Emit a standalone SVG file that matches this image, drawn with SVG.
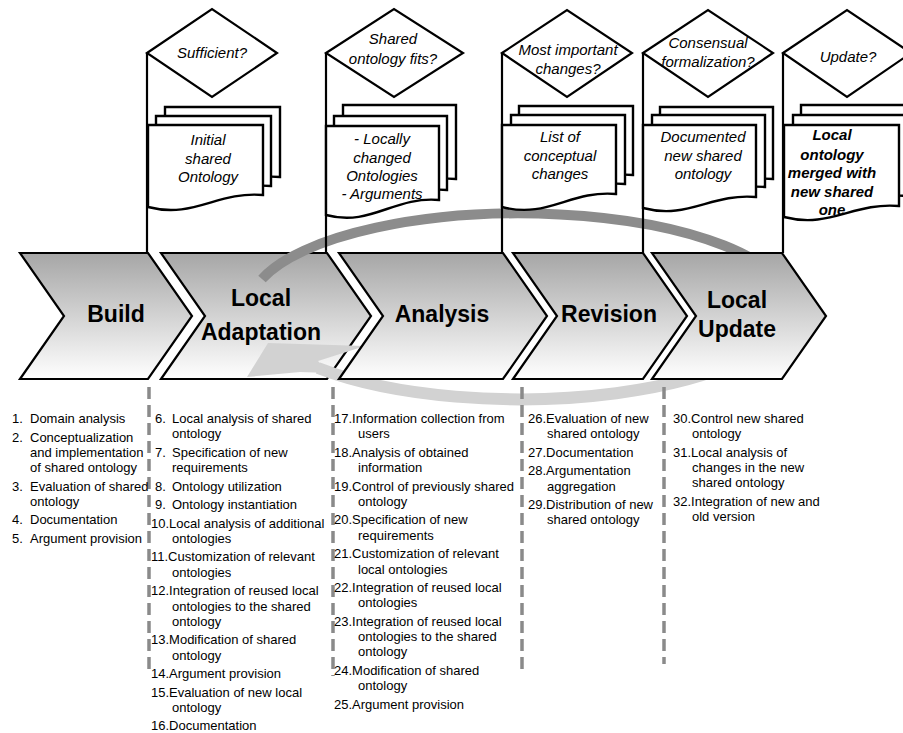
<svg xmlns="http://www.w3.org/2000/svg" width="903" height="733" viewBox="0 0 903 733">
<defs>
<linearGradient id="chev" x1="0" y1="0" x2="0" y2="1">
<stop offset="0" stop-color="#a6a6a6"/>
<stop offset="1" stop-color="#ffffff"/>
</linearGradient>
<style>
.chev{fill:url(#chev);stroke:#000;stroke-width:2.2;stroke-linejoin:miter}
.ct{font-family:"Liberation Sans",Arial,sans-serif;font-weight:bold;font-size:23px;text-anchor:middle;fill:#000}
.dia{fill:#fff;stroke:#000;stroke-width:2.2}
.doc{fill:#fff;stroke:#000;stroke-width:2.4}
.it{font-family:"Liberation Sans",Arial,sans-serif;font-style:italic;font-size:15px;text-anchor:middle;fill:#000}
.bi{font-weight:bold}
.vl{stroke:#000;stroke-width:2.2;fill:none}
.dl{stroke:#8a8a8a;stroke-width:3.5;stroke-dasharray:12 6;fill:none}
.lt{font-family:"Liberation Sans",Arial,sans-serif;font-size:13px;fill:#000}
</style>
</defs>
<rect width="903" height="733" fill="#fff"/>

<g id="build"><path class="chev" d="M20,253 H148 L192,316 L148,379 H20 L64,316 Z"/><text class="ct" x="116" y="322">Build</text></g>
<g id="local-adaptation"><path class="chev" d="M161,253 H327 L371,316 L327,379 H161 L205,316 Z"/><text class="ct" x="261" y="306">Local</text><text class="ct" x="261" y="340">Adaptation</text></g>

<g id="cycle-arrow">
<path d="M262,279 A270,93 0 0,1 790,306" fill="none" stroke="#8c8c8c" stroke-width="10"/>
<path d="M790,306 A270,93 0 0,1 318,368" fill="none" stroke="#d2d2d2" stroke-width="12"/>
<polygon points="247,377 268,343 365,346 318,361 330,373 300,372" fill="#d2d2d2"/>
</g>

<g id="analysis"><path class="chev" d="M339,253 H503 L547,316 L503,379 H339 L383,316 Z"/><text class="ct" x="442" y="322">Analysis</text></g>
<g id="revision"><path class="chev" d="M513,253 H643 L687,316 L643,379 H513 L557,316 Z"/><text class="ct" x="609" y="322">Revision</text></g>
<g id="local-update"><path class="chev" d="M652,253 H782 L826,316 L782,379 H652 L696,316 Z"/><text class="ct" x="737" y="308">Local</text><text class="ct" x="737" y="337">Update</text></g>

<g id="connectors">
<line class="vl" x1="147" y1="53" x2="147" y2="253"/>
<line class="vl" x1="326" y1="53" x2="326" y2="253"/>
<line class="vl" x1="502" y1="53" x2="502" y2="253"/>
<line class="vl" x1="643" y1="53" x2="643" y2="253"/>
<line class="vl" x1="783" y1="53" x2="783" y2="253"/>
<line class="dl" x1="149" y1="387" x2="149" y2="674"/>
<line class="dl" x1="333" y1="387" x2="333" y2="676"/>
<line class="dl" x1="522" y1="387" x2="522" y2="672"/>
<line class="dl" x1="664" y1="387" x2="664" y2="664"/>
</g>

<g id="doc-initial">
<path class="doc" transform="translate(17,-18)" d="M148,125 H263 V195 C217,191 194,219 148,207 Z"/>
<path class="doc" transform="translate(8,-9)" d="M148,125 H263 V195 C217,191 194,219 148,207 Z"/>
<path class="doc" d="M148,125 H263 V195 C217,191 194,219 148,207 Z"/>
<text class="it" x="208" y="145">Initial</text><text class="it" x="208" y="164">shared</text><text class="it" x="208" y="182">Ontology</text>
</g>
<g id="doc-local-changed">
<path class="doc" transform="translate(17,-21)" d="M326,126 H439 V200 C394,196 371,227 326,215 Z"/>
<path class="doc" transform="translate(8,-10)" d="M326,126 H439 V200 C394,196 371,227 326,215 Z"/>
<path class="doc" d="M326,126 H439 V200 C394,196 371,227 326,215 Z"/>
<text class="it" x="382" y="144">- Locally</text><text class="it" x="382" y="163">changed</text><text class="it" x="382" y="181">Ontologies</text><text class="it" x="382" y="199">- Arguments</text>
</g>
<g id="doc-conceptual">
<path class="doc" transform="translate(17,-19)" d="M502,125 H616 V194 C570,190 548,219 502,207 Z"/>
<path class="doc" transform="translate(9,-10)" d="M502,125 H616 V194 C570,190 548,219 502,207 Z"/>
<path class="doc" d="M502,125 H616 V194 C570,190 548,219 502,207 Z"/>
<text class="it" x="560" y="142">List of</text><text class="it" x="560" y="161">conceptual</text><text class="it" x="560" y="179">changes</text>
</g>
<g id="doc-documented">
<path class="doc" transform="translate(17,-18)" d="M643,125 H756 V197 C711,193 688,220 643,208 Z"/>
<path class="doc" transform="translate(9,-10)" d="M643,125 H756 V197 C711,193 688,220 643,208 Z"/>
<path class="doc" d="M643,125 H756 V197 C711,193 688,220 643,208 Z"/>
<text class="it" x="703" y="142">Documented</text><text class="it" x="703" y="161">new shared</text><text class="it" x="703" y="179">ontology</text>
</g>
<g id="doc-merged">
<path class="doc" transform="translate(17,-20)" d="M784,125 H899 V206 C853,202 830,229 784,217 Z"/>
<path class="doc" transform="translate(9,-10)" d="M784,125 H899 V206 C853,202 830,229 784,217 Z"/>
<path class="doc" d="M784,125 H899 V206 C853,202 830,229 784,217 Z"/>
<text class="it bi" x="832" y="140">Local</text><text class="it bi" x="832" y="160">ontology</text><text class="it bi" x="832" y="178">merged with</text><text class="it bi" x="832" y="197">new shared</text><text class="it bi" x="832" y="215">one</text>
</g>

<g id="dec-sufficient"><polygon class="dia" points="147,53 212,9 277,53 212,97"/><text class="it" x="212" y="58">Sufficient?</text></g>
<g id="dec-fits"><polygon class="dia" points="326,53 394,9 463,53 394,97"/><text class="it" x="393" y="44">Shared</text><text class="it" x="393" y="64">ontology fits?</text></g>
<g id="dec-changes"><polygon class="dia" points="502,53 567,10 632,53 567,97"/><text class="it" x="568" y="55">Most important</text><text class="it" x="568" y="74">changes?</text></g>
<g id="dec-consensual"><polygon class="dia" points="643,53 708,10 773,53 708,97"/><text class="it" x="708" y="48">Consensual</text><text class="it" x="708" y="67">formalization?</text></g>
<g id="dec-update"><polygon class="dia" points="783,53 847,10 911,53 847,97"/><text class="it" x="848" y="62">Update?</text></g>

<g id="list-build" class="lt">
<text x="12" y="423">1.</text><text x="30" y="423">Domain analysis</text>
<text x="12" y="441.5">2.</text><text x="30" y="441.5">Conceptualization</text>
<text x="30" y="456.8">and implementation</text>
<text x="30" y="472.1">of shared ontology</text>
<text x="12" y="490.6">3.</text><text x="30" y="490.6">Evaluation of shared</text>
<text x="30" y="505.9">ontology</text>
<text x="12" y="524.4">4.</text><text x="30" y="524.4">Documentation</text>
<text x="12" y="542.9">5.</text><text x="30" y="542.9">Argument provision</text>
</g>
<g id="list-adaptation" class="lt">
<text x="155" y="423">6.</text><text x="172" y="423">Local analysis of shared</text>
<text x="172" y="438.3">ontology</text>
<text x="155" y="456.8">7.</text><text x="172" y="456.8">Specification of new</text>
<text x="172" y="472.1">requirements</text>
<text x="155" y="490.6">8.</text><text x="172" y="490.6">Ontology utilization</text>
<text x="155" y="509.1">9.</text><text x="172" y="509.1">Ontology instantiation</text>
<text x="151" y="527.6">10.Local analysis of additional</text>
<text x="172" y="542.9">ontologies</text>
<text x="151" y="561.4">11.Customization of relevant</text>
<text x="172" y="576.7">ontologies</text>
<text x="151" y="595.2">12.Integration of reused local</text>
<text x="172" y="610.5">ontologies to the shared</text>
<text x="172" y="625.8">ontology</text>
<text x="151" y="644.3">13.Modification of shared</text>
<text x="172" y="659.6">ontology</text>
<text x="151" y="678.1">14.Argument provision</text>
<text x="151" y="696.6">15.Evaluation of new local</text>
<text x="172" y="711.9">ontology</text>
<text x="151" y="730.4">16.Documentation</text>
</g>
<g id="list-analysis" class="lt">
<text x="334" y="423">17.Information collection from</text>
<text x="358" y="438.3">users</text>
<text x="334" y="456.8">18.Analysis of obtained</text>
<text x="358" y="472.1">information</text>
<text x="334" y="490.6">19.Control of previously shared</text>
<text x="358" y="505.9">ontology</text>
<text x="334" y="524.4">20.Specification of new</text>
<text x="358" y="539.7">requirements</text>
<text x="334" y="558.2">21.Customization of relevant</text>
<text x="358" y="573.5">local ontologies</text>
<text x="334" y="592">22.Integration of reused local</text>
<text x="358" y="607.3">ontologies</text>
<text x="334" y="625.8">23.Integration of reused local</text>
<text x="358" y="641.1">ontologies to the shared</text>
<text x="358" y="656.4">ontology</text>
<text x="334" y="674.9">24.Modification of shared</text>
<text x="358" y="690.2">ontology</text>
<text x="334" y="708.7">25.Argument provision</text>
</g>
<g id="list-revision" class="lt">
<text x="528" y="423">26.Evaluation of new</text>
<text x="547" y="438.3">shared ontology</text>
<text x="528" y="456.8">27.Documentation</text>
<text x="528" y="475.3">28.Argumentation</text>
<text x="547" y="490.6">aggregation</text>
<text x="528" y="509.1">29.Distribution of new</text>
<text x="547" y="524.4">shared ontology</text>
</g>
<g id="list-update" class="lt">
<text x="673" y="423">30.Control new shared</text>
<text x="692" y="438.3">ontology</text>
<text x="673" y="456.8">31.Local analysis of</text>
<text x="692" y="472.1">changes in the new</text>
<text x="692" y="487.4">shared ontology</text>
<text x="673" y="505.9">32.Integration of new and</text>
<text x="692" y="521.2">old version</text>
</g>
</svg>
